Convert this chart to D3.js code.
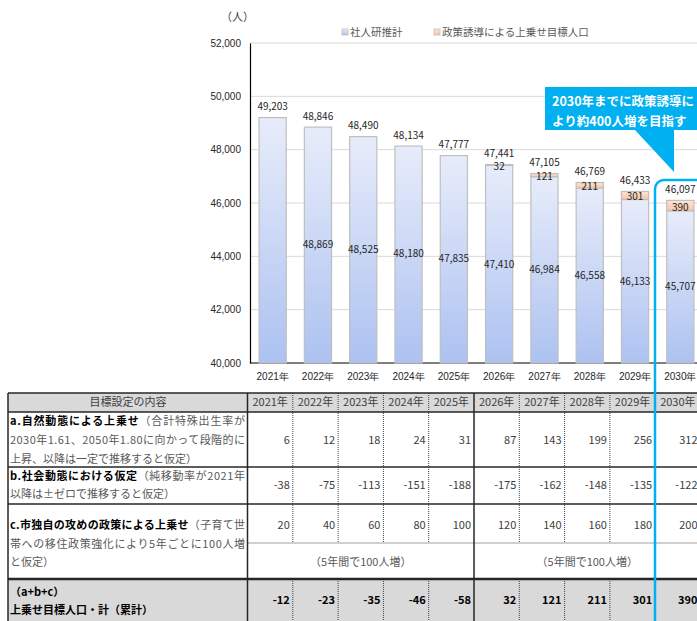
<!DOCTYPE html>
<html>
<head>
<meta charset="utf-8">
<script src="https://cdn.jsdelivr.net/npm/d3@7"></script>
<style>
  body { margin: 0; background: #fff; }
  svg { display: block; font-family: "Noto Sans CJK JP", "Noto Sans", sans-serif; }
</style>
</head>
<body>
<script>
// chart data
const years = ["2021", "2022", "2023", "2024", "2025", "2026", "2027", "2028", "2029", "2030"];
const totals = [49203, 48846, 48490, 48134, 47777, 47441, 47105, 46769, 46433, 46097];
const baseLabels = [null, 48869, 48525, 48180, 47835, 47410, 46984, 46558, 46133, 45707];
const uplift = [-12, -23, -35, -46, -58, 32, 121, 211, 301, 390];
const yTicks = [40000, 42000, 44000, 46000, 48000, 50000, 52000];
const legendNames = ["社人研推計", "政策誘導による上乗せ目標人口"];

// table data
const rowA = [6, 12, 18, 24, 31, 87, 143, 199, 256, 312];
const rowB = [-38, -75, -113, -151, -188, -175, -162, -148, -135, -122];
const rowC = [20, 40, 60, 80, 100, 120, 140, 160, 180, 200];
const rowCNote = "（5年間で100人増）";
const tableHead = "目標設定の内容";
const labelA = [[["a.自然動態による上乗せ", true], ["（合計特殊出生率が", false]],
                [["2030年1.61、2050年1.80に向かって段階的に", false]],
                [["上昇、以降は一定で推移すると仮定）", false]]];
const labelB = [[["b.社会動態における仮定", true], ["（純移動率が2021年", false]],
                [["以降は±ゼロで推移すると仮定）", false]]];
const labelC = [[["c.市独自の攻めの政策による上乗せ", true], ["（子育て世", false]],
                [["帯への移住政策強化により5年ごとに100人増", false]],
                [["と仮定）", false]]];
const labelT = [[["（a+b+c）", true]], [["上乗せ目標人口・計（累計）", true]]];
const calloutLines = ["2030年までに政策誘導に", "より約400人増を目指す"];

const W = 697, H = 621;
const svg = d3.select("body").append("svg").attr("width", W).attr("height", H);

const defs = svg.append("defs");
const g1 = defs.append("linearGradient").attr("id", "gBase").attr("x1", 0).attr("y1", 0).attr("x2", 0).attr("y2", 1);
g1.append("stop").attr("offset", "0%").attr("stop-color", "#e7ecfa");
g1.append("stop").attr("offset", "100%").attr("stop-color", "#adc2f1");
const g2 = defs.append("linearGradient").attr("id", "gUp").attr("x1", 0).attr("y1", 0).attr("x2", 0).attr("y2", 1);
g2.append("stop").attr("offset", "0%").attr("stop-color", "#fde6d6");
g2.append("stop").attr("offset", "100%").attr("stop-color", "#f8c4a2");

const x = d3.scaleBand().domain(years).range([250, 703]).paddingInner(0.4).paddingOuter(0.2);
const y = d3.scaleLinear().domain([40000, 52000]).range([363, 43]);
const fmt = d3.format(",");

// gridlines
svg.append("g").selectAll("line").data(yTicks.slice(1)).join("line")
  .attr("x1", 250).attr("x2", W).attr("y1", d => y(d)).attr("y2", d => y(d))
  .attr("stroke", "#d9d9d9").attr("stroke-width", 1);

// y axis
const yAxis = svg.append("g").attr("transform", "translate(250,0)")
  .call(d3.axisLeft(y).tickValues(yTicks).tickFormat(fmt).tickSize(0).tickPadding(9));
yAxis.select(".domain").attr("stroke", "#000").attr("stroke-width", 1.2);
yAxis.selectAll("text").attr("font-size", 10).attr("fill", "#262626").attr("font-family", "inherit");

// x axis
const xAxis = svg.append("g").attr("transform", "translate(0,363)")
  .call(d3.axisBottom(x).tickSize(0).tickPadding(10).tickFormat(d => d + "年"));
xAxis.select(".domain").attr("d", "M250,0H" + W).attr("stroke", "#000").attr("stroke-width", 1.2);
xAxis.selectAll("text").attr("font-size", 10).attr("fill", "#262626").attr("font-family", "inherit");

// bars
const bars = years.map((yr, i) => ({
  yr, total: totals[i], up: uplift[i], base: baseLabels[i],
  baseTop: totals[i] - Math.max(0, uplift[i])
}));
const gb = svg.append("g");
gb.selectAll("rect.base").data(bars).join("rect").attr("class", "base")
  .attr("x", d => x(d.yr)).attr("width", x.bandwidth())
  .attr("y", d => y(d.baseTop)).attr("height", d => y(40000) - y(d.baseTop))
  .attr("fill", "url(#gBase)").attr("stroke", "#bfbfbf").attr("stroke-width", 1.2);
gb.selectAll("rect.up").data(bars.filter(d => d.up > 0)).join("rect").attr("class", "up")
  .attr("x", d => x(d.yr)).attr("width", x.bandwidth())
  .attr("y", d => y(d.total)).attr("height", d => y(d.baseTop) - y(d.total))
  .attr("fill", "url(#gUp)").attr("stroke", "#bfbfbf").attr("stroke-width", 1.2);

// bar labels
const lab = svg.append("g").attr("font-size", 10).attr("fill", "#262626").attr("text-anchor", "middle");
lab.selectAll("text.tot").data(bars).join("text")
  .attr("x", d => x(d.yr) + x.bandwidth() / 2).attr("y", d => y(d.total) - 11)
  .attr("dy", "0.35em").text(d => fmt(d.total));
lab.selectAll("text.base").data(bars.filter(d => d.base != null)).join("text")
  .attr("x", d => x(d.yr) + x.bandwidth() / 2).attr("y", d => (y(40000) + y(d.base)) / 2)
  .attr("dy", "0.35em").text(d => fmt(d.base));
lab.selectAll("text.up").data(bars.filter(d => d.up > 0)).join("text")
  .attr("x", d => x(d.yr) + x.bandwidth() / 2).attr("y", d => (y(d.total) + y(d.baseTop)) / 2 + 1.5)
  .attr("dy", "0.35em").text(d => fmt(d.up));

// unit + legend
svg.append("text").attr("x", 221).attr("y", 17).attr("dy", "0.35em")
  .attr("font-size", 11).attr("fill", "#404040").text("（人）");
const legX = [342, 434], legFill = ["url(#gBase)", "url(#gUp)"];
legendNames.forEach((n, i) => {
  svg.append("rect").attr("x", legX[i]).attr("y", 29).attr("width", 6).attr("height", 6)
    .attr("fill", legFill[i]).attr("stroke", "#bfbfbf").attr("stroke-width", 0.8);
  svg.append("text").attr("x", legX[i] + 8).attr("y", 32).attr("dy", "0.35em")
    .attr("font-size", 10.5).attr("fill", "#595959").text(n);
});

// ---------------- table ----------------
const tx = d3.scaleBand().domain(years).range([247.5, 247.5 + 45.3 * 10]);
const tb = svg.append("g");
const rows = {top: 393, head: 412, a: 467, b: 504, cMid: 543, c: 579};

tb.append("rect").attr("x", 8).attr("y", rows.top).attr("width", W).attr("height", rows.head - rows.top).attr("fill", "#d9d9d9");
tb.append("rect").attr("x", 8).attr("y", rows.c).attr("width", W).attr("height", H - rows.c).attr("fill", "#d9d9d9");

// dotted separators between years
const dotSeg = [[rows.top, rows.cMid], [rows.c, H]];
years.slice(1).forEach((yr, i) => {
  if (i + 1 === 5) return;
  dotSeg.forEach(s => tb.append("line").attr("x1", tx(yr)).attr("x2", tx(yr)).attr("y1", s[0]).attr("y2", s[1])
    .attr("stroke", "#404040").attr("stroke-width", 1).attr("stroke-dasharray", "1,1"));
});
tb.append("line").attr("x1", 247.5).attr("x2", W).attr("y1", rows.cMid).attr("y2", rows.cMid)
  .attr("stroke", "#404040").attr("stroke-dasharray", "1,1");

// solid lines
[[8, 8], [247.5, 247.5], [tx("2026"), tx("2026")]].forEach(v =>
  tb.append("line").attr("x1", v[0]).attr("x2", v[1]).attr("y1", rows.top).attr("y2", H)
    .attr("stroke", "#262626").attr("stroke-width", 1.5));
[rows.top, rows.head, rows.a, rows.b].forEach(r =>
  tb.append("line").attr("x1", 8).attr("x2", W).attr("y1", r).attr("y2", r)
    .attr("stroke", "#262626").attr("stroke-width", 1.5));
tb.append("line").attr("x1", 8).attr("x2", W).attr("y1", rows.c).attr("y2", rows.c)
  .attr("stroke", "#262626").attr("stroke-width", 2.5);

// header
tb.append("text").attr("x", 128).attr("y", 402.5).attr("dy", "0.35em").attr("text-anchor", "middle")
  .attr("font-size", 11).attr("fill", "#404040").text(tableHead);
tb.selectAll("text.yh").data(years).join("text")
  .attr("x", d => tx(d) + tx.bandwidth() / 2).attr("y", 402.5).attr("dy", "0.35em").attr("text-anchor", "middle")
  .attr("font-size", 11).attr("fill", "#404040").text(d => d + "年");

// left labels
function drawLabel(lines, ys, fullLines) {
  lines.forEach((parts, i) => {
    const t = tb.append("text").attr("x", 10).attr("y", ys[i]).attr("dy", "0.35em").attr("font-size", 11);
    if (i < fullLines) t.attr("textLength", 235).attr("lengthAdjust", "spacing");
    parts.forEach(p => t.append("tspan").attr("font-weight", p[1] ? "bold" : "normal")
      .attr("fill", p[1] ? "#000" : "#595959").text(p[0]));
  });
}
drawLabel(labelA, [421, 440, 459], 2);
drawLabel(labelB, [476, 494], 1);
drawLabel(labelC, [525, 544, 562], 2);
drawLabel(labelT, [592, 610], 0);

// values
function drawVals(vals, yy, bold) {
  tb.append("g").selectAll("text").data(vals).join("text")
    .attr("x", (d, i) => tx(years[i]) + tx.bandwidth() - 3).attr("y", yy).attr("dy", "0.35em")
    .attr("text-anchor", "end").attr("font-size", 11).attr("font-weight", bold ? "bold" : "normal")
    .attr("fill", bold ? "#000" : "#404040").text(d => d);
}
drawVals(rowA, 440, false);
drawVals(rowB, 485, false);
drawVals(rowC, 525, false);
drawVals(uplift, 600, true);
[[tx("2021"), tx("2026")], [tx("2026"), tx("2030") + tx.bandwidth()]].forEach(s =>
  tb.append("text").attr("x", (s[0] + s[1]) / 2).attr("y", 562).attr("dy", "0.35em").attr("text-anchor", "middle")
    .attr("font-size", 11).attr("fill", "#595959").text(rowCNote));

// ---------------- callout ----------------
const blue = "#00b0f0";
svg.append("path").attr("d", "M545,87H" + (W + 5) + "V130H674V172L635,130H545Z").attr("fill", blue);
calloutLines.forEach((l, i) => svg.append("text").attr("x", 552).attr("y", 101.5 + i * 20).attr("dy", "0.35em")
  .attr("font-size", 12.5).attr("font-weight", "bold").attr("fill", "#fff").text(l));
svg.append("rect").attr("x", 655).attr("y", 180).attr("width", 120).attr("height", 500).attr("rx", 9)
  .attr("fill", "none").attr("stroke", blue).attr("stroke-width", 2.5);
</script>
</body>
</html>
